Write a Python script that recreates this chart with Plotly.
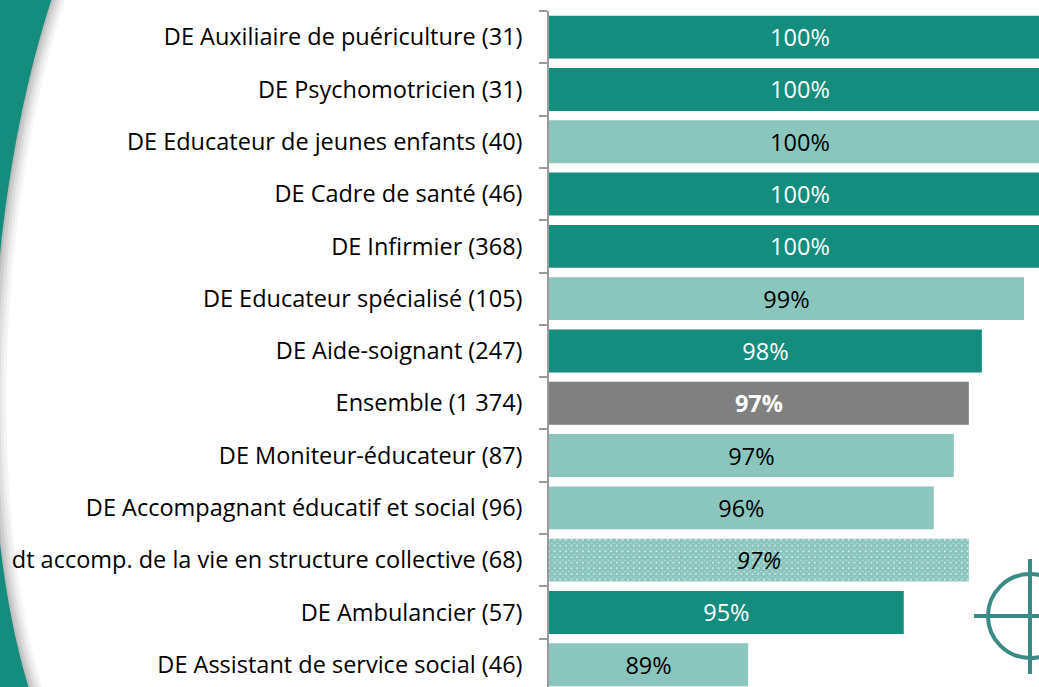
import plotly.graph_objects as go

categories = [
    "DE Auxiliaire de puériculture (31)",
    "DE Psychomotricien (31)",
    "DE Educateur de jeunes enfants (40)",
    "DE Cadre de santé (46)",
    "DE Infirmier (368)",
    "DE Educateur spécialisé (105)",
    "DE Aide-soignant (247)",
    "Ensemble (1 374)",
    "DE Moniteur-éducateur (87)",
    "DE Accompagnant éducatif et social (96)",
    "dt accomp. de la vie en structure collective (68)",
    "DE Ambulancier (57)",
    "DE Assistant de service social (46)",
]
values = [100, 100, 100, 100, 100, 99.05, 97.56, 97.10, 96.57, 95.86, 97.10, 94.80, 89.30]
groups = ["sante", "sante", "social", "sante", "sante", "social", "sante",
          "ensemble", "social", "social", "detail", "sante", "social"]

X_MIN, X_MAX = 82.26, 99.58

W, H = 1039, 687
L, T = 549, 11
PW, PH = W - L, H - T

DARK = "#148C7E"
LIGHT = "#8AC6BE"
GREY = "#808080"
FS = 23.5

def px(x):
    return (x - L) / PW

def py(y):
    return 1 - (y - T) / PH

fig = go.Figure()

styles = {
    "sante": dict(color=DARK, font=dict(color="white"), tmpl="%{customdata:.0f}%"),
    "social": dict(color=LIGHT, font=dict(color="black"), tmpl="%{customdata:.0f}%"),
    "ensemble": dict(color=GREY, font=dict(color="white"), tmpl="<b>%{customdata:.0f}%</b>"),
    "detail": dict(color="white", font=dict(color="black"), tmpl="<i>%{customdata:.0f}%</i>"),
}

for g, st in styles.items():
    ys = [c for c, gg in zip(categories, groups) if gg == g]
    vs = [v for v, gg in zip(values, groups) if gg == g]
    marker = dict(color=st["color"], line=dict(width=0))
    if g == "detail":
        marker["pattern"] = dict(shape="x", fgcolor=DARK, bgcolor="white", size=4, solidity=0.9)
    fig.add_trace(go.Bar(
        y=ys, x=[v - X_MIN for v in vs], base=X_MIN, customdata=vs,
        orientation="h", marker=marker,
        texttemplate=st["tmpl"], textposition="inside", insidetextanchor="middle",
        constraintext="none",
        textfont=dict(family="Open Sans", size=FS, **st["font"]),
        hoverinfo="skip", cliponaxis=True,
    ))

shapes = []
# left decorative swoosh with shadow
def swoosh(off):
    pts = [(53 + off, 0), (-15 + off, 200), (-30 + off, 500), (30 + off, 687)]
    p = "M %f,%f L %f,%f C %f,%f %f,%f %f,%f L %f,%f Z" % (
        px(-40), py(-5), px(pts[0][0]), py(-5),
        px(pts[1][0]), py(pts[1][1]), px(pts[2][0]), py(pts[2][1]),
        px(pts[3][0]), py(pts[3][1] + 5), px(-40), py(H + 5))
    return p

for off, a in [(14, 0.06), (11, 0.08), (8, 0.11), (5, 0.14), (2, 0.18)]:
    shapes.append(dict(type="path", xref="paper", yref="paper", path=swoosh(off),
                       fillcolor="rgba(110,110,110,%s)" % a, line=dict(width=0), layer="below"))
shapes.append(dict(type="path", xref="paper", yref="paper", path=swoosh(0),
                   fillcolor=DARK, line=dict(width=0), layer="below"))

# crosshair logo
LOGO = "#3A8B87"
cx, cy, r = 1030, 616, 42
shapes.append(dict(type="circle", xref="paper", yref="paper",
                   x0=px(cx - r), x1=px(cx + r), y0=py(cy + r), y1=py(cy - r),
                   line=dict(color=LOGO, width=4)))
shapes.append(dict(type="line", xref="paper", yref="paper",
                   x0=px(974), x1=px(1045), y0=py(cy), y1=py(cy),
                   line=dict(color=LOGO, width=4)))
shapes.append(dict(type="line", xref="paper", yref="paper",
                   x0=px(cx), x1=px(cx), y0=py(559), y1=py(674),
                   line=dict(color=LOGO, width=4)))

fig.update_layout(
    width=W, height=H, autosize=False,
    margin=dict(l=L, r=0, t=T, b=0, pad=0),
    paper_bgcolor="white", plot_bgcolor="white",
    showlegend=False, barmode="overlay", bargap=0.18,
    shapes=shapes,
    font=dict(family="Open Sans", size=FS, color="black"),
    xaxis=dict(range=[X_MIN, X_MAX], visible=False, showgrid=False, zeroline=False),
    yaxis=dict(type="category", categoryorder="array", categoryarray=categories,
               range=[12.425, -0.5], showline=True, linecolor="#9A9A9A", linewidth=1.5,
               ticks="outside", tickson="boundaries", ticklen=8, tickcolor="#9A9A9A",
               tickwidth=1.5, showgrid=False, zeroline=False,
               ticklabelstandoff=20,
               tickfont=dict(family="Open Sans", size=FS, color="black")),
)

fig.write_html(
    "out.html",
    config={"displayModeBar": False},
    post_script="document.body.style.margin='0';document.body.style.overflow='hidden';",
)
